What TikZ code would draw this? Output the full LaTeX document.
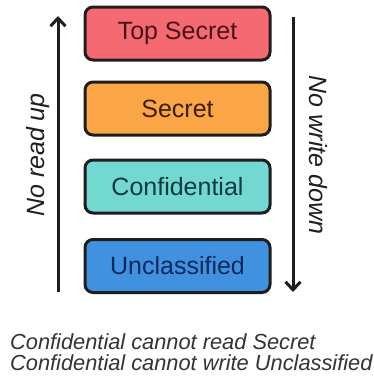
\documentclass[tikz,border=0pt]{standalone}
\usepackage{fontspec}
\setmainfont{Liberation Sans}
\usetikzlibrary{arrows.meta}

\definecolor{tsfill}{RGB}{245,105,115}
\definecolor{sfill}{RGB}{250,165,70}
\definecolor{cfill}{RGB}{115,215,210}
\definecolor{ufill}{RGB}{65,145,225}
\definecolor{tstext}{RGB}{70,20,25}
\definecolor{stext}{RGB}{60,30,5}
\definecolor{ctext}{RGB}{15,60,60}
\definecolor{utext}{RGB}{15,40,90}
\definecolor{edge}{RGB}{30,30,30}

\tikzset{
  level/.style={draw=edge, line width=3pt, rounded corners=8pt,
    minimum width=185pt, minimum height=53pt, inner sep=0pt,
    font=\fontsize{25}{30}\selectfont},
  flow/.style={draw=edge, line width=3pt,
    -{Straight Barb[length=8pt,width=15pt,line width=3pt]}},
  rule/.style={text=edge, font=\fontsize{25}{30}\selectfont\itshape},
  note/.style={text=black!80, font=\fontsize{21.8}{24}\selectfont\itshape,
    anchor=base west, inner sep=0pt}
}

\begin{document}
\begin{tikzpicture}[x=1pt, y=-1pt]
  \useasboundingbox[fill=white] (0,0) rectangle (374,378);

  % security levels, highest first
  \node[level, fill=tsfill, text=tstext] (ts) at (177.5,33.5) {Top Secret};
  \node[level, fill=sfill,  text=stext]  (s)  at (177.5,108.5) {Secret};
  \node[level, fill=cfill,  text=ctext]  (c)  at (177.5,186.5) {Confidential};
  \node[level, fill=ufill,  text=utext]  (u)  at (177.5,266) {Unclassified};

  % direction arrows beside the stack
  \coordinate (rdlo) at (58,292);
  \coordinate (rdhi) at (58,16);
  \coordinate (wrhi) at (293,17);
  \coordinate (wrlo) at (293,292);
  \draw[flow] (rdlo) -- (rdhi);
  \draw[flow] (wrhi) -- (wrlo);

  \node[rule, rotate=90]  (nru) at (38,155) {No read up};
  \node[rule, rotate=-90] (nwd) at (318,155) {No write down};

  % examples below
  \node[note] (n1) at (10,349) {Confidential cannot read Secret};
  \node[note] (n2) at (10,370) {Confidential cannot write Unclassified};
\end{tikzpicture}
\end{document}
